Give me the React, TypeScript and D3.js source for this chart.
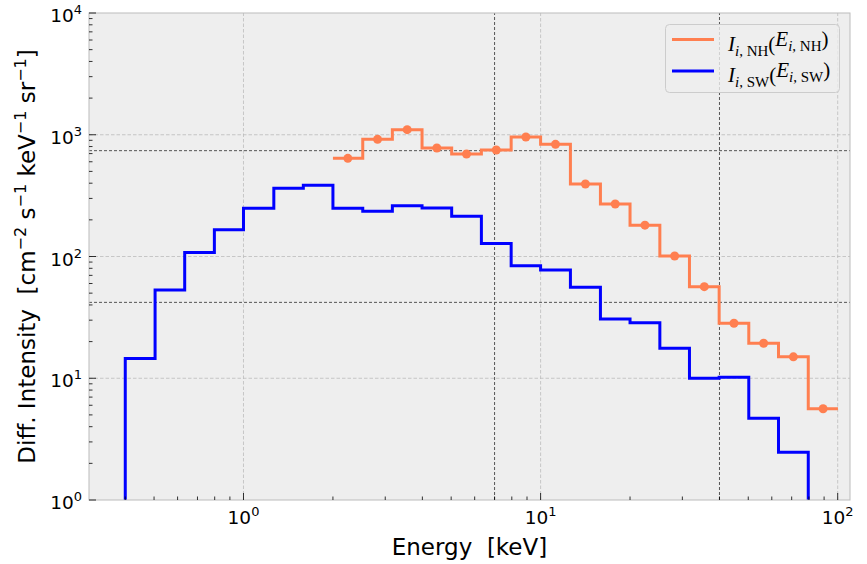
import { useEffect, useRef } from "react";
import * as d3 from "d3";

// bin edges and values
const swEdges = [
  0.4, 0.504, 0.634, 0.798, 1.0, 1.265, 1.59, 2.0, 2.52, 3.17, 3.99, 5.02,
  6.32, 7.96, 10.0, 12.6, 15.9, 20.0, 25.2, 31.7, 39.9, 50.2, 63.2, 79.6,
];
const swValues = [
  14.5, 53, 108, 166, 249, 363, 384, 249, 235, 261, 250, 214, 128, 84, 77.5,
  55.8, 30.7, 28.6, 17.6, 10.0, 10.2, 4.69, 2.47,
];
const nhEdges = [
  2.0, 2.52, 3.17, 3.99, 5.02, 6.32, 7.96, 10.0, 12.6, 15.9, 20.0, 25.2, 31.7,
  39.9, 50.2, 63.2, 79.6, 100.2,
];
const nhValues = [
  640, 917, 1101, 778, 695, 749, 959, 834, 394, 270, 181, 101, 56.5, 28.3,
  19.4, 15.0, 5.62,
];
const xMajor = [1, 10, 100];
const yMajor = [1, 10, 100, 1000, 10000];
const refX = [7, 40];
const refY = [740, 42];

const legendItems = [
  { color: "#ff7f50", sub: "NH" },
  { color: "#0000ff", sub: "SW" },
];

const W = 867;
const H = 564;
const margin = { top: 13, right: 17, bottom: 64, left: 89 };

const App = () => {
  const svgRef = useRef(null);

  useEffect(() => {
    const svg = d3.select(svgRef.current);
    svg.selectAll("*").remove();

    const x = d3
      .scaleLog()
      .domain([0.302, 110])
      .range([margin.left, W - margin.right]);
    const y = d3
      .scaleLog()
      .domain([1, 10000])
      .range([H - margin.bottom, margin.top]);

    const [x0, x1] = x.range();
    const [y0, y1] = y.range();

    svg
      .append("defs")
      .append("clipPath")
      .attr("id", "plot-clip")
      .append("rect")
      .attr("x", x0)
      .attr("y", y1)
      .attr("width", x1 - x0)
      .attr("height", y0 - y1);

    svg
      .append("rect")
      .attr("x", x0)
      .attr("y", y1)
      .attr("width", x1 - x0)
      .attr("height", y0 - y1)
      .attr("fill", "#eeeeee");

    // grid
    const grid = svg.append("g").attr("stroke", "#bbbbbb").attr("stroke-width", 0.8).attr("stroke-dasharray", "3.5,2");
    xMajor.forEach((v) => {
      grid.append("line").attr("x1", x(v)).attr("x2", x(v)).attr("y1", y0).attr("y2", y1);
    });
    yMajor.slice(1, -1).forEach((v) => {
      grid.append("line").attr("x1", x0).attr("x2", x1).attr("y1", y(v)).attr("y2", y(v));
    });

    // reference lines
    const refs = svg.append("g").attr("stroke", "#555").attr("stroke-width", 1).attr("stroke-dasharray", "3,2");
    refX.forEach((v) => {
      refs.append("line").attr("x1", x(v)).attr("x2", x(v)).attr("y1", y0).attr("y2", y1);
    });
    refY.forEach((v) => {
      refs.append("line").attr("x1", x0).attr("x2", x1).attr("y1", y(v)).attr("y2", y(v));
    });

    const line = d3
      .line()
      .x((d) => x(d[0]))
      .y((d) => y(d[1]));

    const stairs = (edges, values) => {
      const pts = [];
      values.forEach((v, i) => {
        pts.push([edges[i], v]);
        pts.push([edges[i + 1], v]);
      });
      return pts;
    };

    const plot = svg.append("g").attr("clip-path", "url(#plot-clip)");

    const swPts = stairs(swEdges, swValues);
    swPts.unshift([swEdges[0], 1]);
    swPts.push([swEdges[swEdges.length - 1], 1]);
    plot
      .append("path")
      .datum(swPts)
      .attr("fill", "none")
      .attr("stroke", "#0000ff")
      .attr("stroke-width", 3)
      .attr("d", line);

    plot
      .append("path")
      .datum(stairs(nhEdges, nhValues))
      .attr("fill", "none")
      .attr("stroke", "#ff7f50")
      .attr("stroke-width", 3)
      .attr("d", line);

    plot
      .selectAll("circle")
      .data(nhValues)
      .join("circle")
      .attr("cx", (d, i) => x(Math.sqrt(nhEdges[i] * nhEdges[i + 1])))
      .attr("cy", (d) => y(d))
      .attr("r", 4.5)
      .attr("fill", "#ff7f50");

    // spines
    svg
      .append("rect")
      .attr("x", x0)
      .attr("y", y1)
      .attr("width", x1 - x0)
      .attr("height", y0 - y1)
      .attr("fill", "none")
      .attr("stroke", "#bcbcbc")
      .attr("stroke-width", 1);

    // ticks (inward)
    const ticks = svg.append("g").attr("stroke", "#000").attr("stroke-width", 0.8);
    const minorOf = (lo, hi) => {
      const out = [];
      for (let p = Math.floor(Math.log10(lo)); p <= Math.ceil(Math.log10(hi)); p++) {
        for (let m = 2; m <= 9; m++) {
          const v = m * Math.pow(10, p);
          if (v > lo && v < hi) out.push(v);
        }
      }
      return out;
    };
    const [dx0, dx1] = x.domain();
    const [dy0, dy1] = y.domain();
    xMajor.forEach((v) => {
      ticks.append("line").attr("x1", x(v)).attr("x2", x(v)).attr("y1", y0).attr("y2", y0 - 7);
    });
    minorOf(dx0, dx1).forEach((v) => {
      ticks.append("line").attr("x1", x(v)).attr("x2", x(v)).attr("y1", y0).attr("y2", y0 - 3.5);
    });
    yMajor.forEach((v) => {
      ticks.append("line").attr("x1", x0).attr("x2", x0 + 7).attr("y1", y(v)).attr("y2", y(v));
    });
    minorOf(dy0, dy1).forEach((v) => {
      ticks.append("line").attr("x1", x0).attr("x2", x0 + 3.5).attr("y1", y(v)).attr("y2", y(v));
    });

    const font = "DejaVu Sans, sans-serif";

    const powLabel = (g, v) => {
      g.append("tspan").text("10");
      g.append("tspan")
        .attr("dy", -8)
        .attr("font-size", 13)
        .text(String(Math.round(Math.log10(v))));
    };

    xMajor.forEach((v) => {
      const t = svg
        .append("text")
        .attr("x", x(v))
        .attr("y", y0 + 24)
        .attr("text-anchor", "middle")
        .attr("font-family", font)
        .attr("font-size", 18.5)
        .attr("fill", "#000");
      powLabel(t, v);
    });
    yMajor.forEach((v) => {
      const t = svg
        .append("text")
        .attr("x", x0 - 7)
        .attr("y", y(v) + 9)
        .attr("text-anchor", "end")
        .attr("font-family", font)
        .attr("font-size", 18.5)
        .attr("fill", "#000");
      powLabel(t, v);
    });

    // axis labels
    svg
      .append("text")
      .attr("x", (x0 + x1) / 2)
      .attr("y", 555)
      .attr("text-anchor", "middle")
      .attr("font-family", font)
      .attr("font-size", 23)
      .attr("xml:space", "preserve")
      .text("Energy  [keV]");

    const yl = svg
      .append("text")
      .attr("transform", `translate(35,${(y0 + y1) / 2}) rotate(-90)`)
      .attr("text-anchor", "middle")
      .attr("font-family", font)
      .attr("font-size", 23)
      .attr("xml:space", "preserve");
    const parts = [
      ["Diff. Intensity  [cm", "−2"],
      [" s", "−1"],
      [" keV", "−1"],
      [" sr", "−1"],
    ];
    parts.forEach(([base, sup], i) => {
      yl.append("tspan").attr("dy", i === 0 ? 0 : 9).text(base);
      yl.append("tspan").attr("dy", -9).attr("font-size", 16).text(sup);
    });
    yl.append("tspan").attr("dy", 9).text("]");

    // legend
    const lg = svg.append("g");
    lg.append("rect")
      .attr("x", 665.5)
      .attr("y", 24.5)
      .attr("width", 174)
      .attr("height", 68)
      .attr("rx", 4)
      .attr("fill", "#eeeeee")
      .attr("fill-opacity", 0.8)
      .attr("stroke", "#cccccc")
      .attr("stroke-width", 1);
    const serif = "Liberation Serif, DejaVu Serif, serif";
    legendItems.forEach((item, i) => {
      const ly = 39.5 + i * 31.5;
      lg.append("line")
        .attr("x1", 672)
        .attr("x2", 714)
        .attr("y1", ly)
        .attr("y2", ly)
        .attr("stroke", item.color)
        .attr("stroke-width", 3);
      const t = lg
        .append("text")
        .attr("x", 728)
        .attr("y", ly + 11)
        .attr("font-family", serif)
        .attr("font-size", 21)
        .attr("fill", "#000")
        .attr("xml:space", "preserve");
      const sym = (letter, first) => {
        t.append("tspan").attr("font-style", "italic").attr("dy", first ? 0 : -5).text(letter);
        t.append("tspan").attr("font-style", "italic").attr("font-size", 15).attr("dy", 5).text("i");
        t.append("tspan").attr("font-size", 15).text(", " + item.sub);
      };
      sym("I", true);
      t.append("tspan").attr("dy", -5).text("(");
      sym("E", false);
      t.append("tspan").attr("dy", -5).text(")");
    });
  }, []);

  return (
    <svg
      ref={svgRef}
      width={W}
      height={H}
      style={{ position: "absolute", left: 0, top: 0, background: "#fff" }}
    />
  );
};

export default App;
